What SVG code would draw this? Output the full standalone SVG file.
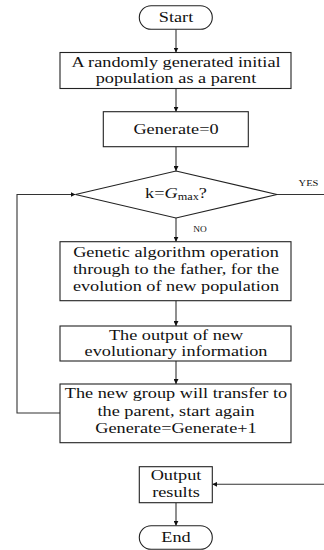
<svg xmlns="http://www.w3.org/2000/svg" width="324" height="550" viewBox="0 0 324 550" font-family="Liberation Serif, Times New Roman, DejaVu Serif, serif">
<defs>
<style>
.s{fill:#fff;stroke:#222;stroke-width:1.1}
.c{fill:none;stroke:#333;stroke-width:1.1}
text{font-family:"Liberation Serif","Times New Roman","DejaVu Serif",serif;font-size:15.6px;fill:#111;text-anchor:middle}
.sm{font-size:9px}
</style>
<marker id="ah" viewBox="0 0 10 10" refX="10" refY="5" markerWidth="5" markerHeight="5" orient="auto" markerUnits="userSpaceOnUse">
<path d="M0,0 L10,5 L0,10 z" fill="#111"/>
</marker>
</defs>
<rect width="324" height="550" fill="#fff"/>
<g id="connectors">
<line class="c" x1="176" y1="29.3" x2="176" y2="52.5" marker-end="url(#ah)"/>
<line class="c" x1="176" y1="88.5" x2="176" y2="111.7" marker-end="url(#ah)"/>
<line class="c" x1="176" y1="146.7" x2="176" y2="171" marker-end="url(#ah)"/>
<line class="c" x1="176" y1="218" x2="176" y2="241.7" marker-end="url(#ah)"/>
<line class="c" x1="176" y1="300.7" x2="176" y2="326" marker-end="url(#ah)"/>
<line class="c" x1="176" y1="361" x2="176" y2="384" marker-end="url(#ah)"/>
<line class="c" x1="277" y1="194.5" x2="324" y2="194.5"/>
<polyline class="c" points="60,413 17,413 17,194.5 75.5,194.5" marker-end="url(#ah)"/>
<line class="c" x1="324" y1="484.3" x2="212.3" y2="484.3" marker-end="url(#ah)"/>
<line class="c" x1="176" y1="502.7" x2="176" y2="525.7" marker-end="url(#ah)"/>
<g transform="translate(308.5,0) scale(1.17,1)"><text class="sm" x="0" y="185.7">YES</text></g>
<g transform="translate(200,0) scale(1.17,1)"><text class="sm" x="0" y="232" style="font-size:8px">NO</text></g>
</g>
<g id="start">
<rect class="s" x="139.3" y="5.7" width="73" height="23.6" rx="11.8"/>
<g transform="translate(176,0) scale(1.17,1)"><text x="0" y="22">Start</text></g>
</g>
<g id="init">
<rect class="s" x="60" y="52.5" width="231" height="36"/>
<g transform="translate(176,0) scale(1.17,1)"><text x="0" y="67">A randomly generated initial</text><text x="0" y="83">population as a parent</text></g>
</g>
<g id="gen0">
<rect class="s" x="103.3" y="111.7" width="145" height="35"/>
<g transform="translate(176,0) scale(1.17,1)"><text x="0" y="134.3">Generate=0</text></g>
</g>
<g id="decision">
<polygon class="s" points="176,171 277,194.5 176,218 75.5,194.5"/>
<g transform="translate(176,0) scale(1.17,1)"><text x="0" y="198.3">k=<tspan font-style="italic">G</tspan><tspan style="font-size:10.5px" dy="1.3">max</tspan><tspan dy="-1.3">?</tspan></text></g>
</g>
<g id="ga">
<rect class="s" x="60" y="241.7" width="231" height="59"/>
<g transform="translate(176,0) scale(1.17,1)"><text x="0" y="257">Genetic algorithm operation</text><text x="0" y="274">through to the father, for the</text><text x="0" y="291">evolution of new population</text></g>
</g>
<g id="output-info">
<rect class="s" x="60" y="326" width="231" height="35"/>
<g transform="translate(176,0) scale(1.17,1)"><text x="0" y="340">The output of new</text><text x="0" y="356">evolutionary information</text></g>
</g>
<g id="transfer">
<rect class="s" x="60" y="384" width="231" height="58.7"/>
<g transform="translate(176,0) scale(1.17,1)"><text x="0" y="398.5">The new group will transfer to</text><text x="0" y="416">the parent, start again</text><text x="0" y="433.5">Generate=Generate+1</text></g>
</g>
<g id="result">
<rect class="s" x="139.3" y="466.7" width="73" height="36"/>
<g transform="translate(176,0) scale(1.17,1)"><text x="0" y="480">Output</text><text x="0" y="496.7">results</text></g>
</g>
<g id="end">
<rect class="s" x="139.3" y="525.7" width="73" height="23.6" rx="11.8"/>
<g transform="translate(176,0) scale(1.17,1)"><text x="0" y="542">End</text></g>
</g>
</svg>
